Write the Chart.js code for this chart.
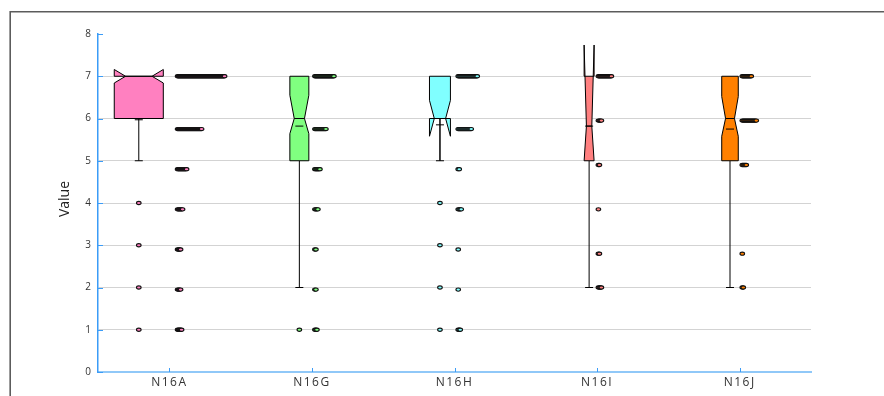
<!DOCTYPE html>
<html>
<head>
<meta charset="utf-8">
<script src="https://cdn.jsdelivr.net/npm/chart.js@4"></script>
<style>
  html, body { margin: 0; padding: 0; background: #fff; }
  canvas { display: block; }
</style>
</head>
<body>
<canvas id="chart" width="884" height="396"></canvas>
<script>
// groups on the x axis
const categories = ["N16A", "N16G", "N16H", "N16I", "N16J"];

// box statistics per group
const lowerQuartile = [6, 5, 6, 5, 5];
const medians = [7, 6, 6, 5.82, 6];
const upperQuartile = [7, 7, 7, 7, 7];
const notchLow = [6.84, 5.64, 5.58, 5, 5.58];
const notchHigh = [7.16, 6.55, 6.43, 7.74, 6.52];
const means = [5.97, 5.82, 5.85, 5.82, 5.75];
const whiskerLow = [5, 2, 5, 2, 2];
const whiskerHigh = [7, 7, 7, 7, 7];
const outliers = [[4, 3, 2, 1], [1], [4, 3, 2, 1], [], []];

// dot strips beside each box: level and number of responses
const stripLevels = [
    [1, 1.95, 2.9, 3.85, 4.8, 5.75, 7],
    [1, 1.95, 2.9, 3.85, 4.8, 5.75, 7],
    [1, 1.95, 2.9, 3.85, 4.8, 5.75, 7],
    [2, 2.8, 3.85, 4.9, 5.95, 7],
    [2, 2.8, 4.9, 5.95, 7]
];
const stripCounts = [
    [5, 4, 4, 6, 10, 25, 48],
    [3, 2, 2, 4, 6, 12, 20],
    [3, 1, 1, 4, 2, 14, 20],
    [4, 2, 1, 2, 4, 14],
    [2, 1, 5, 15, 10]
];

const yTicks = [0, 1, 2, 3, 4, 5, 6, 7, 8];

// look of the boxes (widths / shifts as a fraction of one category band)
const boxColors = ["#ff80c0", "#80ff80", "#80ffff", "#ff8080", "#ff8000"];
const boxWidth = [0.344, 0.133, 0.147, 0.07, 0.116];
const boxShift = [-0.214, -0.088, -0.102, -0.056, -0.068];
const stripShift = [0.042, 0.005, 0.01, -0.007, 0.002];

Chart.defaults.font.family = "'Open Sans', sans-serif";

function dot(c, px, py, fill) {
    c.beginPath();
    c.ellipse(px, py, 2.3, 1.6, 0, 0, Math.PI * 2);
    c.fillStyle = fill;
    c.fill();
    c.strokeStyle = "#111";
    c.lineWidth = 1.1;
    c.stroke();
}

const boxPlugin = {
    id: "notchedBoxes",
    beforeDraw(chart) {
        const c = chart.ctx;
        // outer frame
        c.save();
        c.strokeStyle = "#5c5c5c";
        c.lineWidth = 1.6;
        c.beginPath();
        c.moveTo(10.2, 396);
        c.lineTo(10.2, 11.8);
        c.lineTo(884, 11.8);
        c.stroke();
        c.restore();
        c.letterSpacing = "1.5px";
    },
    afterDatasetsDraw(chart) {
        const c = chart.ctx;
        const x = chart.scales.x, y = chart.scales.y;
        const area = chart.chartArea;
        const band = x.getPixelForValue(1) - x.getPixelForValue(0);
        c.save();
        c.letterSpacing = "0px";

        // inner tick marks
        c.strokeStyle = "#3b9cf7";
        c.lineWidth = 1;
        yTicks.forEach(v => {
            const py = Math.round(y.getPixelForValue(v)) + 0.5;
            c.beginPath();
            c.moveTo(area.left, py);
            c.lineTo(area.left + 5, py);
            c.stroke();
        });
        categories.forEach((_, i) => {
            const px = Math.round(x.getPixelForValue(i)) + 0.5;
            c.beginPath();
            c.moveTo(px, area.bottom);
            c.lineTo(px, area.bottom - 4);
            c.stroke();
        });

        categories.forEach((_, i) => {
            const mid = x.getPixelForValue(i);
            const cx = mid + boxShift[i] * band;
            const w = boxWidth[i] * band;
            const L = cx - w / 2, R = cx + w / 2;
            const ind = w * 0.23;
            const yq1 = y.getPixelForValue(lowerQuartile[i]);
            const yq3 = y.getPixelForValue(upperQuartile[i]);
            const ym = y.getPixelForValue(medians[i]);
            const ynl = y.getPixelForValue(notchLow[i]);
            const ynh = y.getPixelForValue(notchHigh[i]);

            // whiskers
            c.strokeStyle = "#000";
            c.lineWidth = 1;
            const cap = 4;
            [[lowerQuartile[i], whiskerLow[i]], [upperQuartile[i], whiskerHigh[i]]].forEach(([from, to]) => {
                if (from === to) return;
                const y0 = y.getPixelForValue(from), y1 = y.getPixelForValue(to);
                c.beginPath();
                c.moveTo(cx, y0);
                c.lineTo(cx, y1);
                c.moveTo(cx - cap, y1);
                c.lineTo(cx + cap, y1);
                c.stroke();
            });

            // notched box
            c.beginPath();
            c.moveTo(L, yq1);
            c.lineTo(L, ynl);
            c.lineTo(L + ind, ym);
            c.lineTo(L, ynh);
            c.lineTo(L, yq3);
            c.lineTo(R, yq3);
            c.lineTo(R, ynh);
            c.lineTo(R - ind, ym);
            c.lineTo(R, ynl);
            c.lineTo(R, yq1);
            c.closePath();
            c.fillStyle = boxColors[i];
            c.fill();
            c.stroke();

            // median and mean
            c.beginPath();
            c.moveTo(L + ind, ym);
            c.lineTo(R - ind, ym);
            const ymean = y.getPixelForValue(means[i]);
            c.moveTo(cx - cap, ymean);
            c.lineTo(cx + cap, ymean);
            c.stroke();

            // whisker over the box interior where it crosses
            if (whiskerLow[i] !== lowerQuartile[i] && notchLow[i] < lowerQuartile[i]) {
                c.beginPath();
                c.moveTo(cx, yq1);
                c.lineTo(cx, y.getPixelForValue(whiskerLow[i]));
                c.stroke();
            }

            // outliers
            outliers[i].forEach(v => dot(c, cx, y.getPixelForValue(v), boxColors[i]));

            // dot strips
            const sx = mid + stripShift[i] * band + 2.3;
            stripLevels[i].forEach((lvl, k) => {
                const py = y.getPixelForValue(lvl);
                for (let n = 0; n < stripCounts[i][k]; n++) {
                    dot(c, sx + n, py, boxColors[i]);
                }
            });
        });

        // y axis title
        c.translate(65, 199);
        c.rotate(-Math.PI / 2);
        c.font = "14px 'Open Sans', sans-serif";
        c.fillStyle = "#222";
        c.textAlign = "center";
        c.textBaseline = "middle";
        c.fillText("Value", 0, 0);
        c.restore();
    }
};

const chart = new Chart(document.getElementById("chart").getContext("2d"), {
    type: "bar",
    data: {
        labels: categories,
        datasets: []
    },
    options: {
        responsive: false,
        animation: false,
        layout: { padding: { top: 34, right: 73, left: 0, bottom: 0 } },
        plugins: { legend: { display: false }, tooltip: { enabled: false } },
        scales: {
            x: {
                type: "category",
                offset: true,
                grid: { display: false, drawTicks: false },
                border: { color: "#90c8f8", width: 2 },
                ticks: { color: "#333", font: { size: 12 }, padding: 3 },
                afterFit: s => { s.height = 24; }
            },
            y: {
                min: 0,
                max: 8,
                ticks: { stepSize: 1, color: "#333", font: { size: 10 }, padding: 5.5 },
                grid: {
                    drawTicks: false,
                    color: ctx => (ctx.tick.value === 0 || ctx.tick.value === 8) ? "rgba(0,0,0,0)" : "#d3d3d3",
                    lineWidth: 1
                },
                border: { color: "#3b9cf7", width: 1.5 },
                afterFit: s => { s.width = 98; }
            }
        }
    },
    plugins: [boxPlugin]
});
</script>
</body>
</html>
